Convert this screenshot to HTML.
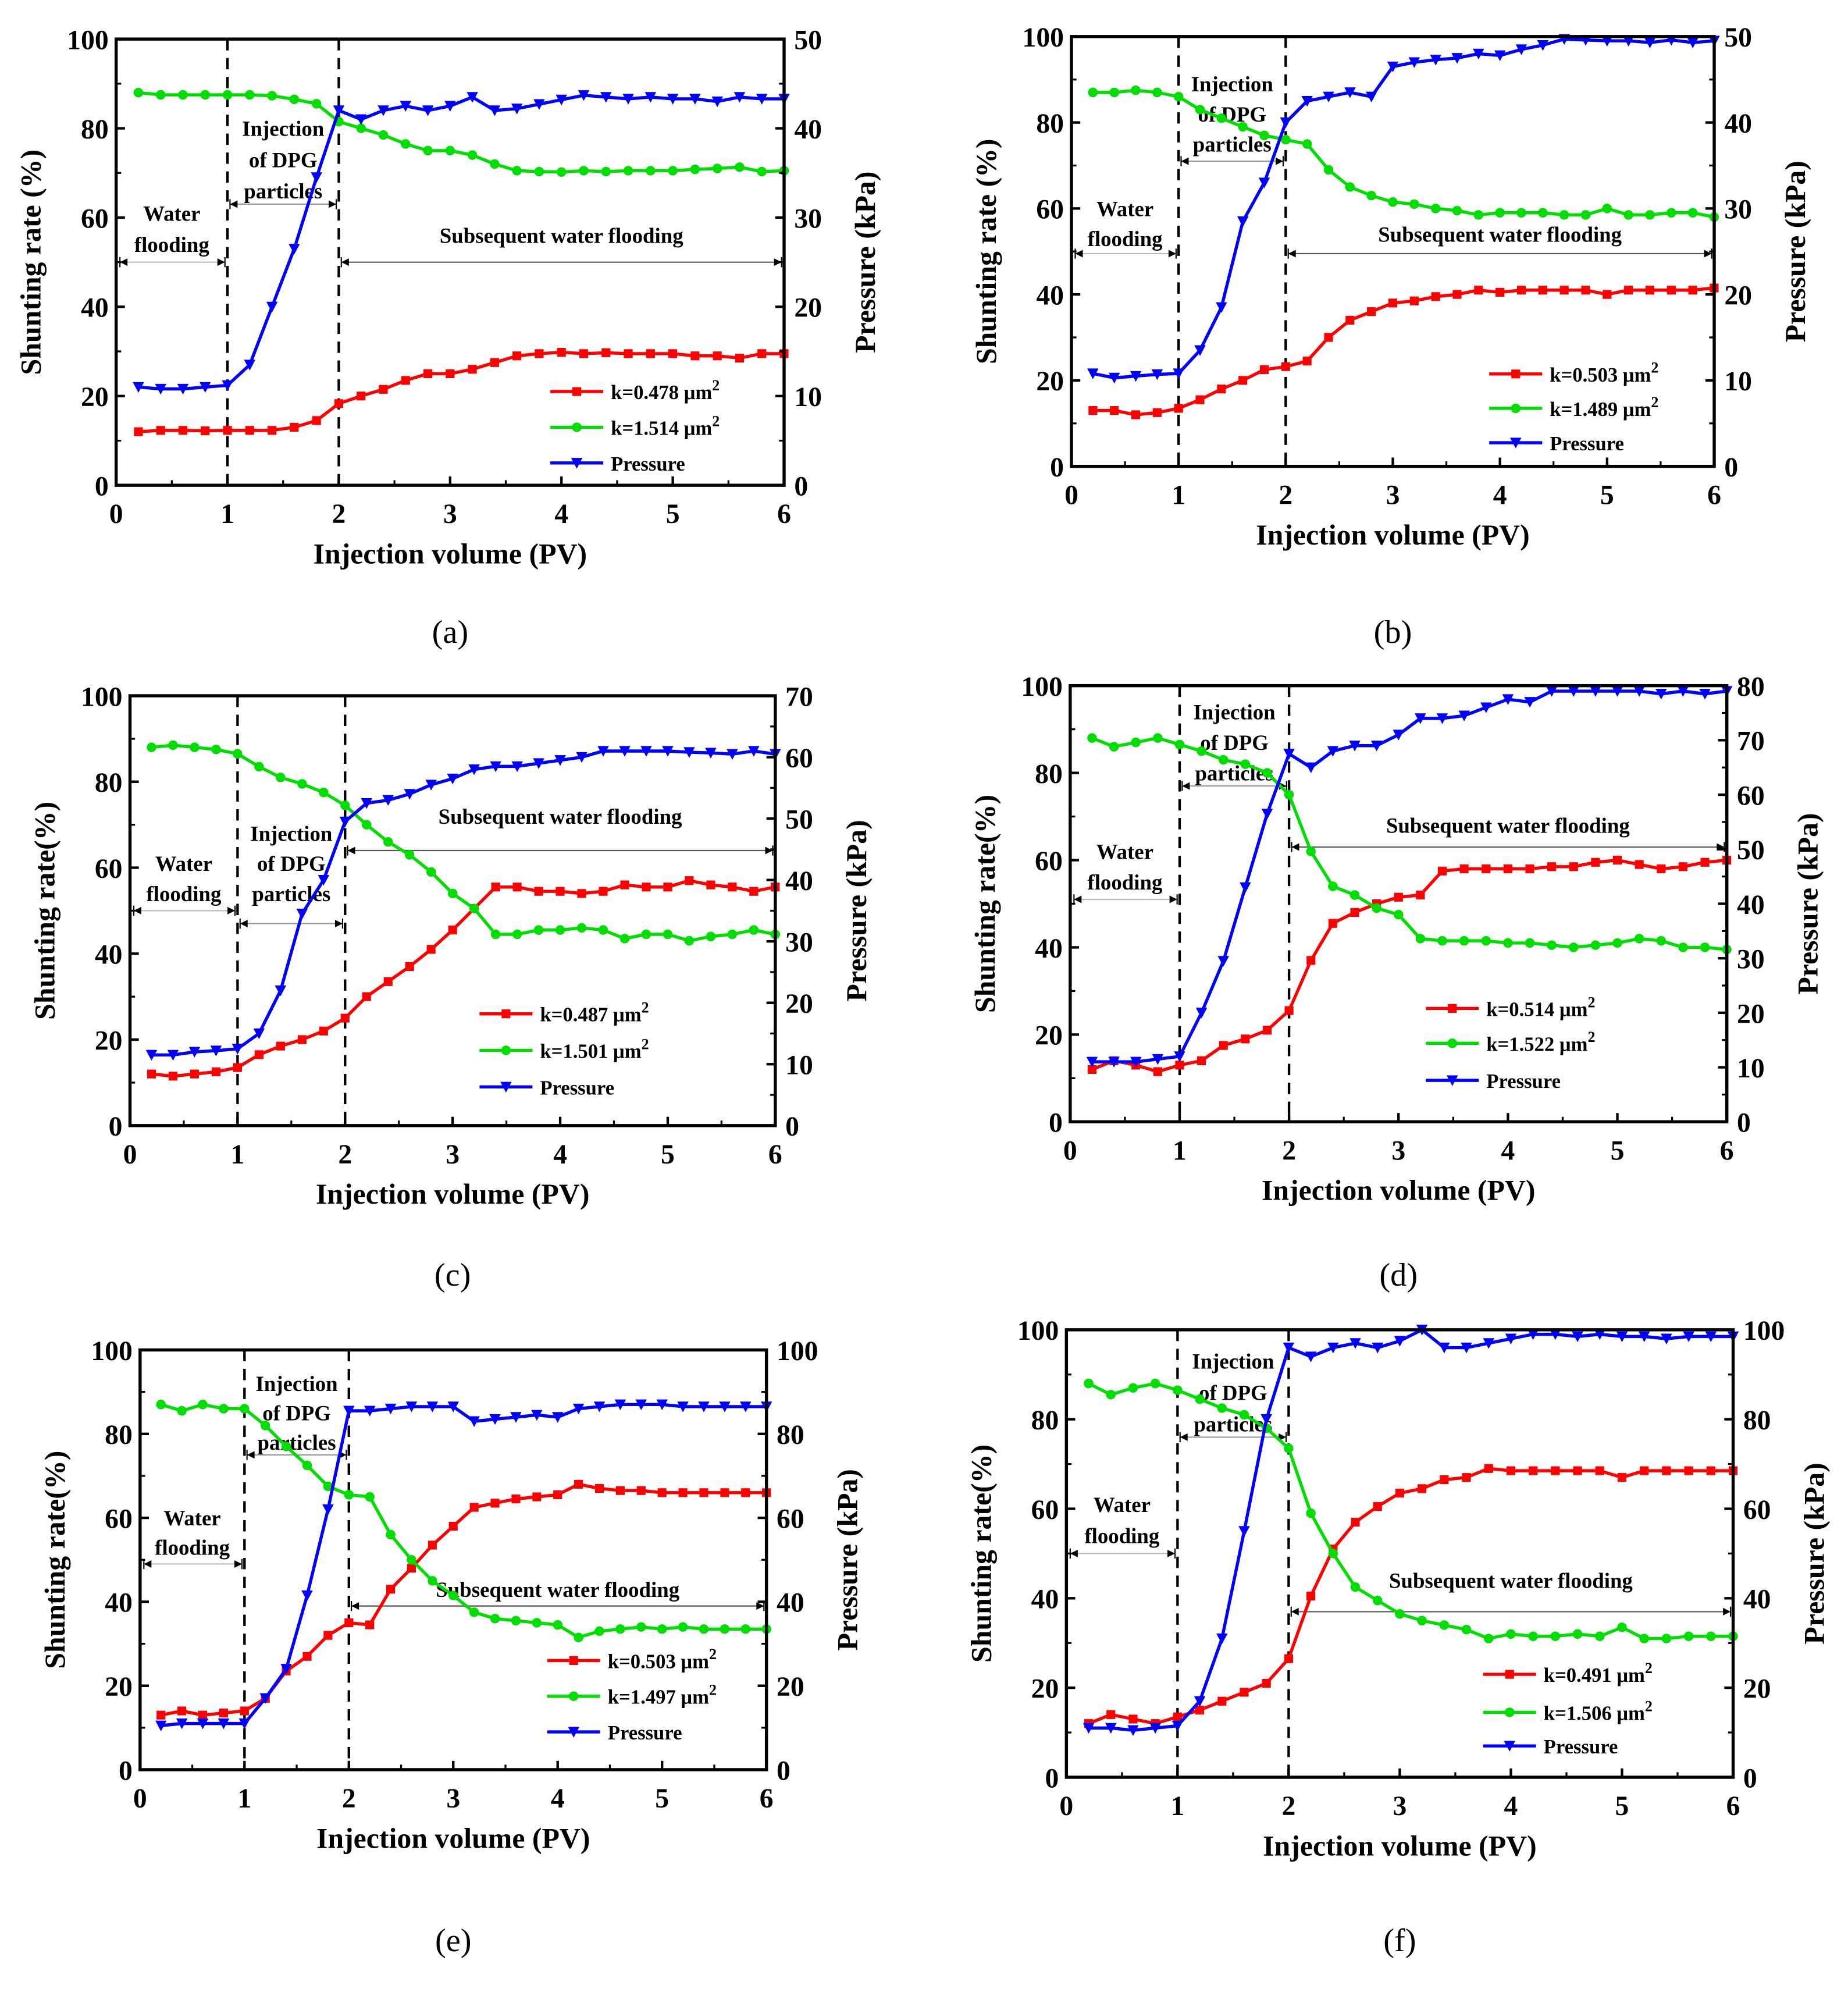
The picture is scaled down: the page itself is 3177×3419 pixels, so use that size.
<!DOCTYPE html>
<html><head><meta charset="utf-8"><style>
html,body{margin:0;padding:0;background:#fff}
svg{display:block}
text{font-family:"Liberation Serif",serif;font-weight:bold;fill:#000}
</style></head><body>
<svg id="chart" width="3177" height="3419" viewBox="0 0 1466 1578" xmlns="http://www.w3.org/2000/svg"></svg>
<script>
const pvValues = [0.2,0.4,0.6,0.8,1.0,1.2,1.4,1.6,1.8,2.0,2.2,2.4,2.6,2.8,3.0,3.2,3.4,3.6,3.8,4.0,4.2,4.4,4.6,4.8,5.0,5.2,5.4,5.6,5.8,6.0];
const xTicks = [0,1,2,3,4,5,6];
const leftTicks = [0,20,40,60,80,100];
const panelLabels = ["(a)","(b)","(c)","(d)","(e)","(f)"];
const lowK = ["0.478","0.503","0.487","0.514","0.503","0.491"];
const highK = ["1.514","1.489","1.501","1.522","1.497","1.506"];
const rightMax = [50,50,70,80,100,100];
const rightStep = [10,10,10,10,20,20];
const redA=[12,12.3,12.3,12.2,12.3,12.3,12.3,13,14.5,18.3,20,21.5,23.5,25,25,26,27.5,29,29.5,29.8,29.5,29.7,29.5,29.5,29.5,29,29,28.5,29.5,29.5];
const greenA=[88,87.5,87.5,87.5,87.5,87.5,87.3,86.5,85.5,81.5,80,78.5,76.5,75,75,74,72,70.5,70.3,70.2,70.5,70.3,70.5,70.5,70.5,70.8,71,71.3,70.3,70.5];
const presA=[11,10.8,10.8,11,11.2,13.5,20,26.5,34.5,42,41,42,42.5,42,42.5,43.5,42,42.2,42.7,43.2,43.7,43.5,43.3,43.5,43.3,43.3,43,43.5,43.3,43.3];
const redB=[13,13,12,12.5,13.5,15.5,18,20,22.5,23.2,24.5,30,34,36,38,38.5,39.5,40,41,40.5,41,41,41,41,40,41,41,41,41,41.5];
const greenB=[87,87,87.5,87,86,83,81,79,77,76,75,69,65,63,61.5,61,60,59.5,58.5,59,59,59,58.5,58.5,60,58.5,58.5,59,59,58];
const presB=[10.8,10.3,10.5,10.7,10.8,13.5,18.5,28.5,33,40,42.5,43,43.5,43,46.5,47,47.3,47.5,48,47.8,48.5,49,49.7,49.6,49.5,49.5,49.3,49.6,49.3,49.5];
const redC=[12,11.5,12,12.5,13.5,16.5,18.5,20,22,25,30,33.5,37,41,45.5,50.5,55.5,55.5,54.5,54.5,54,54.5,56,55.5,55.5,57,56,55.5,54.5,55.5];
const greenC=[88,88.5,88,87.5,86.5,83.5,81,79.5,77.5,74.5,70,66,63,59,54,50.5,44.5,44.5,45.5,45.5,46,45.5,43.5,44.5,44.5,43,44,44.5,45.5,44.5];
const presC=[11.5,11.5,12,12.2,12.5,15,22,34.5,40,49.5,52.5,53,54,55.5,56.5,58,58.5,58.5,59,59.5,60,61,61,61,61,60.8,60.7,60.5,61,60.5];
const redD=[12,14,13,11.5,13,14,17.5,19,21,25.5,37,45.5,48,50,51.5,52,57.5,58,58,58,58,58.5,58.5,59.5,60,59,58,58.5,59.5,60];
const greenD=[88,86,87,88,86.5,85,83,82,80,75,62,54,52,49,47.5,42,41.5,41.5,41.5,41,41,40.5,40,40.5,41,42,41.5,40,40,39.5];
const presD=[11,11,11,11.5,12,20,29.5,43,56.5,67.5,65,68,69,69,71,74,74,74.5,76,77.5,77,79,79,79,79,79,78.5,79,78.5,79];
const redE=[13,14,13,13.5,14,17,23.5,27,32,35,34.5,43,48,53.5,58,62.5,63.5,64.5,65,65.5,68,67,66.5,66.5,66,66,66,66,66,66];
const greenE=[87,85.5,87,86,86,82,77,72.5,67.5,65.5,65,56,50,45,41.5,37.5,36,35.5,35,34.5,31.5,33,33.5,34,33.5,34,33.5,33.5,33.5,33.5];
const presE=[10.5,11,11,11,11,17,24,41.5,62,85.5,85.5,86,86.5,86.5,86.5,83,83.5,84,84.5,84,86,86.5,87,87,87,86.5,86.5,86.5,86.5,86.5];
const redF=[12,14,13,12,13.5,15,17,19,21,26.5,40.5,51,57,60.5,63.5,64.5,66.5,67,69,68.5,68.5,68.5,68.5,68.5,67,68.5,68.5,68.5,68.5,68.5];
const greenF=[88,85.5,87,88,86.5,84.5,82.5,81,78,73.5,59,50,42.5,39.5,36.5,35,34,33,31,32,31.5,31.5,32,31.5,33.5,31,31,31.5,31.5,31.5];
const presF=[11,11,10.5,11,11.5,17,31,55,80,96,94,96,97,96,97.5,100,96,96,97,98,99,99,98.5,99,98.5,98.5,98,98.5,98.5,98.5];
const redSeries=[redA,redB,redC,redD,redE,redF];
const greenSeries=[greenA,greenB,greenC,greenD,greenE,greenF];
const presSeries=[presA,presB,presC,presD,presE,presF];

const boxes=[{x0:92,x1:622,y0:31,y1:385},{x0:850,x1:1360,y0:29,y1:370},{x0:103,x1:615,y0:552,y1:893},{x0:849,x1:1370,y0:544,y1:890},{x0:111,x1:608,y0:1071,y1:1404},{x0:846,x1:1375,y0:1055,y1:1410}];
const ann=[
 {w:[61,54,50],i:[80,73,66,63],s:[56,50],lx:3.9,ly:[21,13,5],yt:"Shunting rate (%)"},
 {w:[60,53,49.5],i:[89,82,75,71],s:[54,49.5],lx:3.9,ly:[21.5,13.5,5.5],yt:"Shunting rate (%)"},
 {w:[61,54,50],i:[68,61,54,47],s:[72,64],lx:3.25,ly:[26,17.5,9],yt:"Shunting rate(%)"},
 {w:[62,55,51],i:[94,87,80,77],s:[68,63],lx:3.25,ly:[26,18,9.5],yt:"Shunting rate(%)"},
 {w:[60,53,49],i:[92,85,78,75],s:[43,39],lx:3.9,ly:[26,17.5,9],yt:"Shunting rate(%)"},
 {w:[61,54,50],i:[93,86,79,76],s:[44,37],lx:3.75,ly:[23,14.5,7],yt:"Shunting rate(%)"}];
const NS="http://www.w3.org/2000/svg";
const svg=document.getElementById('chart');
function mk(tag,attrs,parent,txt){const e=document.createElementNS(NS,tag);for(const k in attrs)e.setAttribute(k,attrs[k]);if(txt!==undefined)e.textContent=txt;(parent||svg).appendChild(e);return e;}

function marker(g,kind,x,y,color){
  if(kind==='sq'){const m=mk('rect',{x:x-3.5,y:y-3.5,width:7,height:7,fill:color},g);}
  else if(kind==='ci'){const m=mk('circle',{cx:x,cy:y,r:3.8,fill:color},g);}
  else {const m=mk('polygon',{points:`${x-4.5},${y-4} ${x+4.5},${y-4} ${x},${y+4.5}`,fill:color},g);}
}
function arrowLine(g,x1,x2,y,col){
  mk('line',{x1,y1:y,x2,y2:y,stroke:col,'stroke-width':1},g);
  mk('polygon',{points:`${x1},${y} ${x1+6},${y-3} ${x1+6},${y+3}`,fill:'#000'},g);
  mk('polygon',{points:`${x2},${y} ${x2-6},${y-3} ${x2-6},${y+3}`,fill:'#000'},g);
  mk('line',{x1:x1,y1:y-4,x2:x1,y2:y+4,stroke:'#000','stroke-width':1},g);
  mk('line',{x1:x2,y1:y-4,x2:x2,y2:y+4,stroke:'#000','stroke-width':1},g);
}

boxes.forEach((b,p)=>{
  const g=mk('g',{});
  
  
  const X=v=>b.x0+(b.x1-b.x0)*v/6;
  const YL=v=>b.y1-(b.y1-b.y0)*v/100;
  const YR=v=>b.y1-(b.y1-b.y0)*v/rightMax[p];
  const a=ann[p];
  // dashed lines
  [1,2].forEach(v=>{const l=mk('line',{x1:X(v),x2:X(v),y1:b.y0,y2:b.y1,stroke:'#000','stroke-width':2,'stroke-dasharray':'9,6'},g);});
  // annotations
  const fs=17;
  let t=mk('text',{x:X(0.5),y:YL(a.w[0])+6,'text-anchor':'middle','font-size':fs},g,'Water');
  
  mk('text',{x:X(0.5),y:YL(a.w[1])+6,'text-anchor':'middle','font-size':fs},g,'flooding');
  arrowLine(g,X(0)+3,X(1)-2,YL(a.w[2]),'#bbb');
  t=mk('text',{x:X(1.5),y:YL(a.i[0])+6,'text-anchor':'middle','font-size':fs},g,'Injection');
  
  mk('text',{x:X(1.5),y:YL(a.i[1])+6,'text-anchor':'middle','font-size':fs},g,'of DPG');
  mk('text',{x:X(1.5),y:YL(a.i[2])+6,'text-anchor':'middle','font-size':fs},g,'particles');
  arrowLine(g,X(1)+2,X(2)-2,YL(a.i[3]),'#999');
  t=mk('text',{x:X(4.0),y:YL(a.s[0])+6,'text-anchor':'middle','font-size':fs},g,'Subsequent water flooding');
  
  arrowLine(g,X(2)+2,X(6)-2,YL(a.s[1]),'#555');
  // series
  const sets=[[redSeries[p],'#ff0000','sq',YL,'series-low-k'],[greenSeries[p],'#00dd00','ci',YL,'series-high-k'],[presSeries[p],'#0000ff','tr',YR,'series-pressure']];
  sets.forEach(([d,c,k,Y,nm])=>{
    const pts=d.map((v,i)=>`${X(pvValues[i])},${Y(v)}`).join(' ');
    const pl=mk('polyline',{points:pts,fill:'none',stroke:c,'stroke-width':2.5},g);
    
    d.forEach((v,i)=>marker(g,k,X(pvValues[i]),Y(v),c));
  });
  // frame
  mk('rect',{x:b.x0,y:b.y0,width:b.x1-b.x0,height:b.y1-b.y0,fill:'none',stroke:'#000','stroke-width':2.5},g);
  // x ticks
  xTicks.forEach(v=>{
    mk('line',{x1:X(v),x2:X(v),y1:b.y1,y2:b.y1-7,stroke:'#000','stroke-width':2},g);
    if(v<6)mk('line',{x1:X(v+0.5),x2:X(v+0.5),y1:b.y1,y2:b.y1-4,stroke:'#000','stroke-width':1.5},g);
    const tt=mk('text',{x:X(v),y:b.y1+30,'text-anchor':'middle','font-size':22},g,String(v));
    
  });
  leftTicks.forEach(v=>{
    mk('line',{x1:b.x0,x2:b.x0+7,y1:YL(v),y2:YL(v),stroke:'#000','stroke-width':2},g);
    if(v<100)mk('line',{x1:b.x0,x2:b.x0+4,y1:YL(v+10),y2:YL(v+10),stroke:'#000','stroke-width':1.5},g);
    const tt=mk('text',{x:b.x0-6,y:YL(v)+8,'text-anchor':'end','font-size':22},g,String(v));
    
  });
  for(let v=0;v<=rightMax[p];v+=rightStep[p]){
    mk('line',{x1:b.x1,x2:b.x1-7,y1:YR(v),y2:YR(v),stroke:'#000','stroke-width':2},g);
    if(v<rightMax[p])mk('line',{x1:b.x1,x2:b.x1-4,y1:YR(v+rightStep[p]/2),y2:YR(v+rightStep[p]/2),stroke:'#000','stroke-width':1.5},g);
    const tt=mk('text',{x:b.x1+8,y:YR(v)+8,'text-anchor':'start','font-size':22},g,String(v));
    
  }
  // axis titles
  const cy=(b.y0+b.y1)/2;
  t=mk('text',{x:(b.x0+b.x1)/2,y:b.y1+62,'text-anchor':'middle','font-size':23},g,'Injection volume (PV)');
  
  t=mk('text',{x:b.x0-60,y:cy,'text-anchor':'middle','font-size':23,transform:`rotate(-90 ${b.x0-60} ${cy})`},g,a.yt);
  
  const rx=b.x1+72;
  t=mk('text',{x:rx,y:cy,'text-anchor':'middle','font-size':23,transform:`rotate(-90 ${rx} ${cy})`},g,'Pressure (kPa)');
  
  // legend
  const lx=X(a.lx);
  const leg=[['#ff0000','sq','k='+lowK[p]+' \u03bcm'],['#00dd00','ci','k='+highK[p]+' \u03bcm'],['#0000ff','tr','Pressure']];
  leg.forEach(([c,k,txt],i)=>{
    const y=YL(a.ly[i]);
    mk('line',{x1:lx,x2:lx+42,y1:y,y2:y,stroke:c,'stroke-width':2.5},g);
    marker(g,k,lx+21,y,c);
    const lt=mk('text',{x:lx+48,y:y+6,'font-size':16},g,txt);
    
    if(i<2){mk('tspan',{dy:-7,'font-size':12},lt,'2');}
  });
  t=mk('text',{x:(b.x0+b.x1)/2,y:[510,510,1020,1020,1548,1548][p],'text-anchor':'middle','font-size':26,style:'font-weight:normal'},g,panelLabels[p]);
  
});
</script>
</body></html>
